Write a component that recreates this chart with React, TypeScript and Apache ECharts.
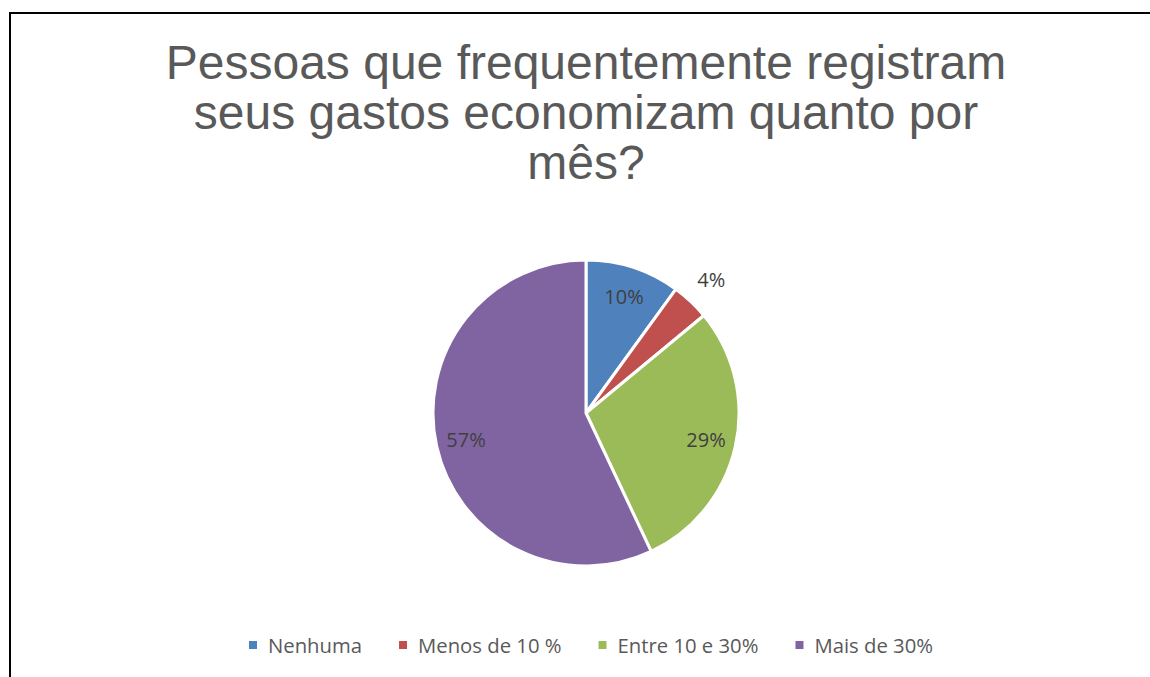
import React, { useEffect, useRef } from "react";
import * as echarts from "echarts";

const titleLines = [
  "Pessoas que frequentemente registram",
  "seus gastos economizam quanto por",
  "mês?",
];
const categories = ["Nenhuma", "Menos de 10 %", "Entre 10 e 30%", "Mais de 30%"];
const values = [10, 4, 29, 57];
const colors = ["#4F81BD", "#C0504D", "#9BBB59", "#8064A2"];
// which labels sit outside the slice (Excel best fit)
const outsideLabel = [false, true, false, false];

export default function App() {
  const ref = useRef<HTMLDivElement>(null);
  useEffect(() => {
    document.body.style.margin = "0";
    document.documentElement.style.overflow = "hidden";
    if (!ref.current) return;
    const chart = echarts.init(ref.current, null, { renderer: "svg" });
    const center = [586, 413];
    const labelFont = {
      fontFamily: "Open Sans",
      fontSize: 20,
      color: "#404040",
    };
    const mkLabelSeries = (outside: boolean, radius: number[]) => ({
      type: "pie",
      center,
      radius,
      startAngle: 90,
      clockwise: true,
      silent: true,
      legendHoverLink: false,
      emphasis: { disabled: true },
      itemStyle: { color: "rgba(0,0,0,0)", borderWidth: 0 },
      labelLine: { show: false },
      data: categories.map((name, i) => ({
        name,
        value: values[i],
        label: {
          show: outsideLabel[i] === outside,
          position: "inside",
          formatter: "{d}%",
          ...labelFont,
        },
      })),
    });
    chart.setOption({
      animation: false,
      color: colors,
      title: {
        text: titleLines.join("\n"),
        left: 581,
        top: 32,
        textAlign: "center",
        textStyle: {
          fontFamily: "Liberation Sans",
          fontSize: 48,
          lineHeight: 50,
          fontWeight: "normal",
          color: "#595959",
        },
      },
      legend: {
        data: categories,
        left: 247,
        top: 635,
        padding: 0,
        icon: "rect",
        itemWidth: 10,
        itemHeight: 10,
        itemGap: 35,
        selectedMode: false,
        textStyle: {
          fontFamily: "Open Sans",
          fontSize: 20.3,
          color: "#595959",
          padding: [0, 0, 0, 5],
        },
      },
      graphic: [
        {
          type: "line",
          shape: { x1: 10, y1: 13, x2: 1150, y2: 13 },
          style: { stroke: "#000", lineWidth: 2 },
          silent: true,
        },
        {
          type: "line",
          shape: { x1: 10, y1: 12, x2: 10, y2: 677 },
          style: { stroke: "#000", lineWidth: 2 },
          silent: true,
        },
      ],
      series: [
        {
          type: "pie",
          center,
          radius: 153,
          startAngle: 90,
          clockwise: true,
          itemStyle: { borderColor: "#fff", borderWidth: 3 },
          label: { show: false },
          labelLine: { show: false },
          emphasis: { disabled: true },
          data: categories.map((name, i) => ({ name, value: values[i] })),
        },
        mkLabelSeries(false, [87, 153]),
        mkLabelSeries(true, [160, 200]),
      ],
    });
    return () => chart.dispose();
  }, []);
  return (
    <div
      ref={ref}
      style={{ position: "fixed", left: 0, top: 0, width: 1150, height: 677, background: "#fff" }}
    />
  );
}
